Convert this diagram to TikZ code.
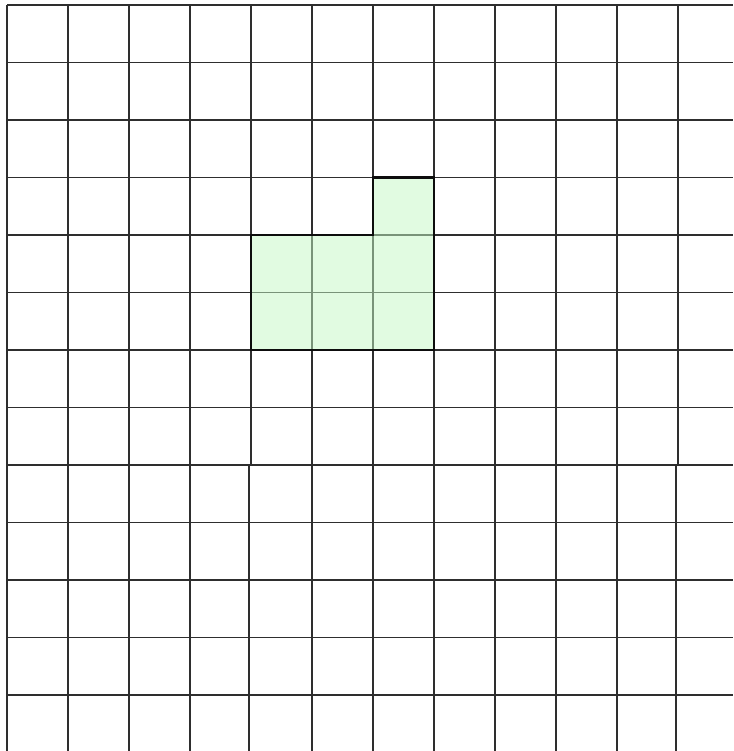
\documentclass[tikz,border=0pt]{standalone}
\begin{document}
\begin{tikzpicture}[x=1pt,y=-1pt,
  gridline/.style={line width=1.4pt,draw=black!82},
  regionfill/.style={fill={rgb,255:red,197;green,249;blue,197},fill opacity=0.5},
  regionborder/.style={line width=2.5pt,draw=black!95,line join=miter}]
\useasboundingbox (0,0) rectangle (733,751);
\fill[white] (0,0) rectangle (733,751);
% horizontal lines
\foreach \i in {0,...,12}{
  \draw[gridline] (7,{5+57.5*\i}) -- (733,{5+57.5*\i});
}
% vertical lines (upper part)
\foreach \x in {7,68,129,190,251,312,373,434,495,556,617,678}{
  \draw[gridline] (\x,5) -- (\x,465);
}
% vertical lines (lower part)
\foreach \x in {7,68,129,190,249,312,373,434,495,556,617,676}{
  \draw[gridline] (\x,465) -- (\x,751);
}
% green region
\coordinate (p1) at (251,235);
\coordinate (p2) at (373,235);
\coordinate (p3) at (373,177.5);
\coordinate (p4) at (434,177.5);
\coordinate (p5) at (434,350);
\coordinate (p6) at (251,350);
\fill[regionfill] (p1) -- (p2) -- (p3) -- (p4) -- (p5) -- (p6) -- cycle;
\draw[regionborder] (p1) -- (p2) -- (p3) -- (p4) -- (p5) -- (p6) -- cycle;
\end{tikzpicture}
\end{document}
